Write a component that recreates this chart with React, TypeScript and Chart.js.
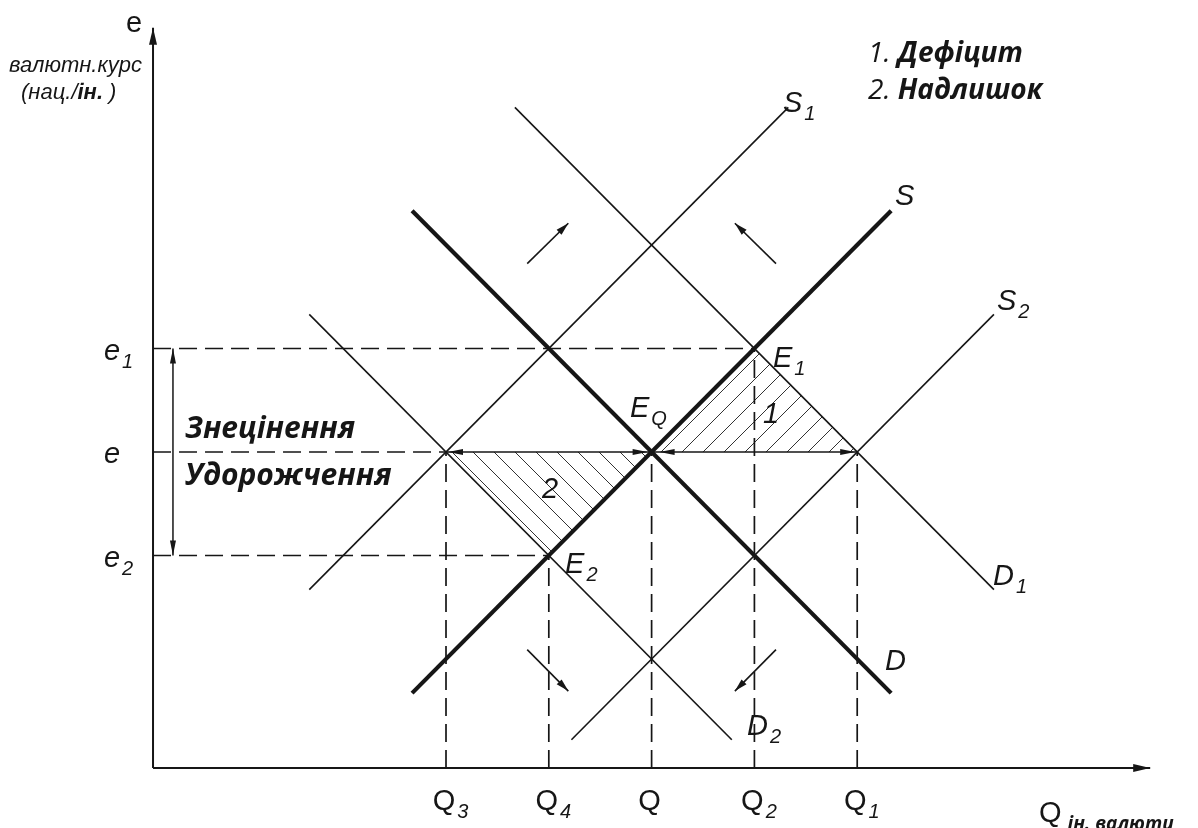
import React, { useEffect, useRef } from 'react';
import { Chart, registerables } from 'chart.js';

Chart.register(...registerables);

type P = { x: number; y: number };

// ---------------- data ----------------
// Quantity levels on the horizontal axis: Q3, Q4, Q, Q2, Q1
const quantityLevels = [3, 4, 5, 6, 7];
const quantitySubscripts = ['3', '4', '', '2', '1'];
// Exchange-rate levels on the vertical axis: e2, e, e1
const rateLevels = [2, 3, 4];
const rateSubscripts = ['2', '', '1'];

// Curves (end points)
const demandD: P[] = [{ x: 2.67, y: 5.33 }, { x: 7.33, y: 0.67 }];
const supplyS: P[] = [{ x: 2.67, y: 0.67 }, { x: 7.33, y: 5.33 }];
const supplyS1: P[] = [{ x: 1.67, y: 1.67 }, { x: 6.33, y: 6.33 }];
const demandD1: P[] = [{ x: 3.67, y: 6.33 }, { x: 8.33, y: 1.67 }];
const demandD2: P[] = [{ x: 1.67, y: 4.33 }, { x: 5.78, y: 0.22 }];
const supplyS2: P[] = [{ x: 4.22, y: 0.22 }, { x: 8.33, y: 4.33 }];

// Key points
const pointEQ: P = { x: 5, y: 3 };
const pointE1: P = { x: 6, y: 4 };
const pointE2: P = { x: 4, y: 2 };
const pointQ3: P = { x: 3, y: 3 };
const pointQ1: P = { x: 7, y: 3 };

// Shift arrows (from -> to)
const shiftArrows: [P, P][] = [
  [{ x: 3.79, y: 4.82 }, { x: 4.19, y: 5.21 }],
  [{ x: 6.21, y: 4.82 }, { x: 5.81, y: 5.21 }],
  [{ x: 3.79, y: 1.09 }, { x: 4.19, y: 0.69 }],
  [{ x: 6.21, y: 1.09 }, { x: 5.81, y: 0.69 }],
];

const axisOrigin: P = { x: 0.15, y: -0.053 };
const axisXEnd = 9.85;
const axisYEnd = 7.1;
const rangeArrowX = 0.344;

const X_MIN = -1.3385;
const X_MAX = 10.315;
const Y_MIN = -0.633;
const Y_MAX = 7.367;

// ---------------- styles ----------------
const INK = '#161616';
const SANS = '"Liberation Sans", Arial, Helvetica, sans-serif';
const OPEN = '"Open Sans", "Noto Sans", sans-serif';
const F_LETTER = `italic 29px ${SANS}`;
const F_LETTER_UP = `29px ${SANS}`;
const F_SUB = `italic 20px ${SANS}`;
const F_NOTE = `italic 22px ${SANS}`;
const F_NOTE_B = `italic bold 22px ${SANS}`;
const F_WORD = `italic bold 30px ${OPEN}`;
const F_LEG_N = `italic 28px ${OPEN}`;
const F_LEG = `italic bold 28px ${OPEN}`;
const F_UNIT = `italic bold 19px ${OPEN}`;

type Part = { t: string; f: string; dx?: number; dy?: number };
type Label = { x: number; y: number; parts: Part[]; center?: boolean };

const sub = (t: string): Part[] => (t ? [{ t, f: F_SUB, dx: 2, dy: 8 }] : []);

const labels: Label[] = [
  { x: -0.035, y: 7.058, center: true, parts: [{ t: 'e', f: F_LETTER_UP }] },
  { x: -1.251, y: 6.671, parts: [{ t: 'валютн.курс', f: F_NOTE }] },
  {
    x: -1.134, y: 6.41,
    parts: [{ t: '(нац./', f: F_NOTE }, { t: 'ін.', f: F_NOTE_B }, { t: ' )', f: F_NOTE }],
  },
  { x: 7.105, y: 6.77, parts: [{ t: '1. ', f: F_LEG_N }, { t: 'Дефіцит', f: F_LEG }] },
  { x: 7.105, y: 6.41, parts: [{ t: '2. ', f: F_LEG_N }, { t: 'Надлишок', f: F_LEG }] },
  { x: 0.461, y: 3.135, parts: [{ t: 'Знецінення', f: F_WORD }] },
  { x: 0.461, y: 2.681, parts: [{ t: 'Удорожчення', f: F_WORD }] },
  { x: 6.278, y: 6.285, parts: [{ t: 'S', f: F_LETTER }, ...sub('1')] },
  { x: 7.368, y: 5.386, parts: [{ t: 'S', f: F_LETTER }] },
  { x: 8.36, y: 4.372, parts: [{ t: 'S', f: F_LETTER }, ...sub('2')] },
  { x: 8.321, y: 1.715, parts: [{ t: 'D', f: F_LETTER }, ...sub('1')] },
  { x: 7.27, y: 0.894, parts: [{ t: 'D', f: F_LETTER }] },
  { x: 5.928, y: 0.266, parts: [{ t: 'D', f: F_LETTER }, ...sub('2')] },
  { x: 6.181, y: 3.821, parts: [{ t: 'E', f: F_LETTER }, ...sub('1')] },
  { x: 4.79, y: 3.338, parts: [{ t: 'E', f: F_LETTER }, { t: 'Q', f: F_SUB, dx: 2, dy: 8 }] },
  { x: 4.158, y: 1.831, parts: [{ t: 'E', f: F_LETTER }, ...sub('2')] },
  { x: 6.084, y: 3.28, parts: [{ t: '1', f: F_LETTER }] },
  { x: 3.934, y: 2.556, parts: [{ t: '2', f: F_LETTER }] },
  { x: 8.768, y: -0.575, parts: [{ t: 'Q', f: F_LETTER_UP }, { t: 'ін. валюти', f: F_UNIT, dx: 6, dy: 8 }] },
  ...quantityLevels.map((q, i) => ({
    x: q - 0.02, y: -0.459, center: true,
    parts: [{ t: 'Q', f: F_LETTER_UP }, ...sub(quantitySubscripts[i])],
  })),
  ...rateLevels.map((r, i) => ({
    x: -0.327, y: r - 0.11,
    parts: [{ t: 'e', f: F_LETTER }, ...sub(rateSubscripts[i])],
  })),
];

type Head = { tip: P; from: P; len: number; half: number; inset?: number };
const heads: Head[] = [
  { tip: { x: axisOrigin.x, y: axisYEnd }, from: axisOrigin, len: 17, half: 4 },
  { tip: { x: axisXEnd, y: axisOrigin.y }, from: axisOrigin, len: 17, half: 4 },
  { tip: { x: rangeArrowX, y: 4 }, from: { x: rangeArrowX, y: 2 }, len: 15, half: 3 },
  { tip: { x: rangeArrowX, y: 2 }, from: { x: rangeArrowX, y: 4 }, len: 15, half: 3 },
  { tip: pointQ3, from: pointEQ, len: 15, half: 3, inset: 2 },
  { tip: pointEQ, from: pointQ3, len: 15, half: 3, inset: 4 },
  { tip: pointEQ, from: pointQ1, len: 15, half: 3, inset: 8 },
  { tip: pointQ1, from: pointEQ, len: 15, half: 3, inset: 2 },
  ...shiftArrows.map(([a, b]) => ({ tip: b, from: a, len: 13, half: 3.5 })),
];

function drawHead(ctx: CanvasRenderingContext2D, tx: number, ty: number, fx: number, fy: number, len: number, half: number, inset: number) {
  const dx = tx - fx;
  const dy = ty - fy;
  const d = Math.hypot(dx, dy) || 1;
  const ux = dx / d;
  const uy = dy / d;
  const px = tx - ux * inset;
  const py = ty - uy * inset;
  const bx = px - ux * len;
  const by = py - uy * len;
  ctx.beginPath();
  ctx.moveTo(px, py);
  ctx.lineTo(bx - uy * half, by + ux * half);
  ctx.lineTo(bx + uy * half, by - ux * half);
  ctx.closePath();
  ctx.fill();
}

const diagramPlugin = {
  id: 'diagram',
  afterDatasetsDraw(chart: any) {
    const ctx: CanvasRenderingContext2D = chart.ctx;
    const xs = chart.scales.x;
    const ys = chart.scales.y;
    ctx.save();
    ctx.fillStyle = INK;
    for (const h of heads) {
      drawHead(
        ctx,
        xs.getPixelForValue(h.tip.x), ys.getPixelForValue(h.tip.y),
        xs.getPixelForValue(h.from.x), ys.getPixelForValue(h.from.y),
        h.len, h.half, h.inset ?? 0,
      );
    }
    ctx.textAlign = 'left';
    ctx.textBaseline = 'alphabetic';
    for (const l of labels) {
      let cx = xs.getPixelForValue(l.x);
      const cy = ys.getPixelForValue(l.y);
      if (l.center) {
        ctx.font = l.parts[0].f;
        cx -= ctx.measureText(l.parts[0].t).width / 2;
      }
      for (const p of l.parts) {
        ctx.font = p.f;
        cx += p.dx ?? 0;
        ctx.fillText(p.t, cx, cy + (p.dy ?? 0));
        cx += ctx.measureText(p.t).width;
      }
    }
    ctx.restore();
  },
};

function makeHatch(ctx: CanvasRenderingContext2D, dir: 1 | -1): CanvasPattern | string {
  const s = 21;
  const c = document.createElement('canvas');
  c.width = s;
  c.height = s;
  const g = c.getContext('2d');
  if (!g) return 'rgba(0,0,0,0.15)';
  g.strokeStyle = '#333';
  g.lineWidth = 1;
  g.beginPath();
  if (dir === 1) {
    g.moveTo(-2, s + 2); g.lineTo(s + 2, -2);
    g.moveTo(-2, 2); g.lineTo(2, -2);
    g.moveTo(s - 2, s + 2); g.lineTo(s + 2, s - 2);
  } else {
    g.moveTo(-2, -2); g.lineTo(s + 2, s + 2);
    g.moveTo(s - 2, -2); g.lineTo(s + 2, 2);
    g.moveTo(-2, s - 2); g.lineTo(2, s + 2);
  }
  g.stroke();
  return ctx.createPattern(c, 'repeat') || 'rgba(0,0,0,0.15)';
}

const lineDs = (data: P[], width: number, dash: number[] = []) => ({
  data,
  borderColor: INK,
  borderWidth: width,
  borderDash: dash,
  pointRadius: 0,
  fill: false,
  tension: 0,
  borderCapStyle: 'butt' as const,
});

export default function App() {
  const ref = useRef<HTMLCanvasElement>(null);

  useEffect(() => {
    document.body.style.margin = '0';
    const canvas = ref.current;
    if (!canvas) return;
    const ctx = canvas.getContext('2d') as CanvasRenderingContext2D;
    const dash = [18, 8];

    const datasets: any[] = [
      // axes
      lineDs([axisOrigin, { x: axisOrigin.x, y: axisYEnd }], 2),
      lineDs([axisOrigin, { x: axisXEnd, y: axisOrigin.y }], 2),
      // main curves
      lineDs(demandD, 4.2),
      lineDs(supplyS, 4.2),
      // shifted curves
      lineDs(supplyS1, 1.6),
      lineDs(demandD1, 1.6),
      lineDs(demandD2, 1.6),
      lineDs(supplyS2, 1.6),
      // arrow shafts
      lineDs([pointQ3, pointEQ], 1.6),
      lineDs([pointEQ, pointQ1], 1.6),
      lineDs([{ x: rangeArrowX, y: 2 }, { x: rangeArrowX, y: 4 }], 1.5),
      ...shiftArrows.map(([a, b]) => lineDs([a, b], 1.6)),
      // dashed guides: horizontal
      lineDs([{ x: axisOrigin.x, y: rateLevels[2] }, pointE1], 1.7, dash),
      lineDs([{ x: axisOrigin.x, y: rateLevels[1] }, pointQ3], 1.7, dash),
      lineDs([{ x: axisOrigin.x, y: rateLevels[0] }, pointE2], 1.7, dash),
      // dashed guides: vertical
      ...[pointQ3, pointE2, pointEQ, pointE1, pointQ1].map((p) =>
        lineDs([{ x: p.x, y: axisOrigin.y }, p], 1.7, dash),
      ),
      // hatched areas
      {
        data: [pointEQ, pointE1, pointQ1],
        borderWidth: 0,
        pointRadius: 0,
        borderColor: 'rgba(0,0,0,0)',
        backgroundColor: makeHatch(ctx, 1),
        fill: { value: 3 },
        tension: 0,
      },
      {
        data: [pointQ3, pointE2, pointEQ],
        borderWidth: 0,
        pointRadius: 0,
        borderColor: 'rgba(0,0,0,0)',
        backgroundColor: makeHatch(ctx, -1),
        fill: { value: 3 },
        tension: 0,
      },
    ];

    const chart = new Chart(canvas, {
      type: 'line',
      data: { datasets },
      options: {
        animation: false,
        responsive: false,
        maintainAspectRatio: false,
        events: [],
        layout: { padding: 0 },
        plugins: {
          legend: { display: false },
          tooltip: { enabled: false },
          title: { display: false },
        },
        scales: {
          x: { type: 'linear', min: X_MIN, max: X_MAX, display: false },
          y: { type: 'linear', min: Y_MIN, max: Y_MAX, display: false },
        },
      },
      plugins: [diagramPlugin],
    } as any);

    return () => chart.destroy();
  }, []);

  return (
    <div style={{ position: 'fixed', left: 0, top: 0, width: 1198, height: 828, background: '#fff' }}>
      <canvas ref={ref} width={1198} height={828} style={{ display: 'block' }} />
    </div>
  );
}
